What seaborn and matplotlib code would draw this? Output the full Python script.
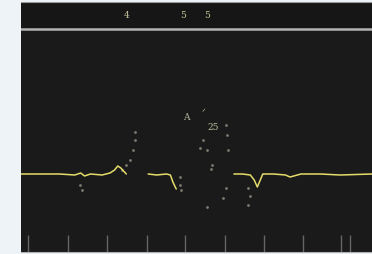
import numpy as np
import pandas as pd
import matplotlib
matplotlib.use("Agg")
import matplotlib.pyplot as plt
import seaborn as sns

# time in seconds, amplitude in mV
seg1_t = [-0.18, 0.3, 0.8, 1.2, 1.35, 1.45, 1.6, 1.9, 2.1, 2.22, 2.3, 2.38, 2.45, 2.52]
seg1_v = [0.04, 0.04, 0.04, 0.0, 0.08, -0.04, 0.04, 0.0, 0.08, 0.2, 0.36, 0.28, 0.16, 0.04]
seg2_t = [3.08, 3.3, 3.55, 3.65, 3.72, 3.8]
seg2_v = [0.04, 0.0, 0.04, 0.0, -0.3, -0.56]
seg3_t = [5.28, 5.5, 5.7, 5.8, 5.88, 6.02, 6.3, 6.6, 6.72, 7.0, 7.5, 8.0, 8.82]
seg3_v = [0.04, 0.04, 0.0, -0.2, -0.48, 0.04, 0.04, 0.0, -0.08, 0.04, 0.04, 0.0, 0.04]

dot_t = [2.74, 2.74, 2.69, 2.62, 2.5, 2.4, 1.33, 1.38, 3.9, 3.9, 3.92, 4.58, 4.6,
         4.68, 5.08, 5.0, 4.72, 4.48, 4.42, 5.08, 5.1, 5.12, 5.65, 5.7, 5.65]
dot_v = [1.72, 1.4, 1.0, 0.6, 0.4, 0.2, -0.4, -0.6, -0.08, -0.4, -0.6, 1.0, -1.28,
         0.24, -0.5, -0.9, 0.4, 1.4, 1.1, 2.0, 1.6, 1.0, -0.52, -0.84, -1.2]

note_t = [4.05, 4.5, 4.75]
note_v = [2.3, 2.5, 1.9]
note_txt = ["A", "ᐟ", "25"]

beat_t = [0, 1.02, 2.03, 3.05, 4.03, 5.05, 6.05, 7.05, 8.03, 8.25]
top_t = [2.54, 3.98, 4.6]
top_txt = ["4", "5", "5"]

sns.set_style("dark")
fig = plt.figure(figsize=(3.72, 2.54), dpi=100, facecolor="#eef3f7")
ax = fig.add_axes([21 / 372, 2 / 254, 351 / 372, 250 / 254])
ax.set_facecolor("#1a1a1a")

for t, v in [(seg1_t, seg1_v), (seg2_t, seg2_v), (seg3_t, seg3_v)]:
    sns.lineplot(x=t, y=v, ax=ax, color="#e6dc6a", lw=1.1, sort=False)

sns.scatterplot(x=dot_t, y=dot_v, ax=ax, color="#7c7c70", s=4, linewidth=0)

for t, v, s in zip(note_t, note_v, note_txt):
    ax.text(t, v, s, color="#bcbca0", fontsize=6.5, ha="center", va="center",
            family=["DejaVu Serif", "DejaVu Sans"])

ax.vlines(beat_t, -3.1, -2.4, color="#666666", lw=1.0)
ax.axhline(5.86, color="#b4b4b4", lw=1.8)
ax.axhspan(5.86, 7.0, color="#161616")
for t, s in zip(top_t, top_txt):
    ax.text(t, 6.36, s, color="#c8c89a", fontsize=6.5, ha="center", va="center",
            family="DejaVu Serif")

ax.set_xlim(-0.18, 8.82)
ax.set_ylim(-3.08, 6.92)
ax.set_xticks([])
ax.set_yticks([])
for side in ["left", "right"]:
    ax.spines[side].set_visible(False)
ax.spines["top"].set_color("#9a9a9a")
ax.spines["bottom"].set_color("#b0b0b0")
ax.spines["top"].set_visible(True)
ax.spines["bottom"].set_visible(True)
ax.set_xlabel("")
ax.set_ylabel("")

fig.savefig("out.png", dpi=100, facecolor=fig.get_facecolor())
